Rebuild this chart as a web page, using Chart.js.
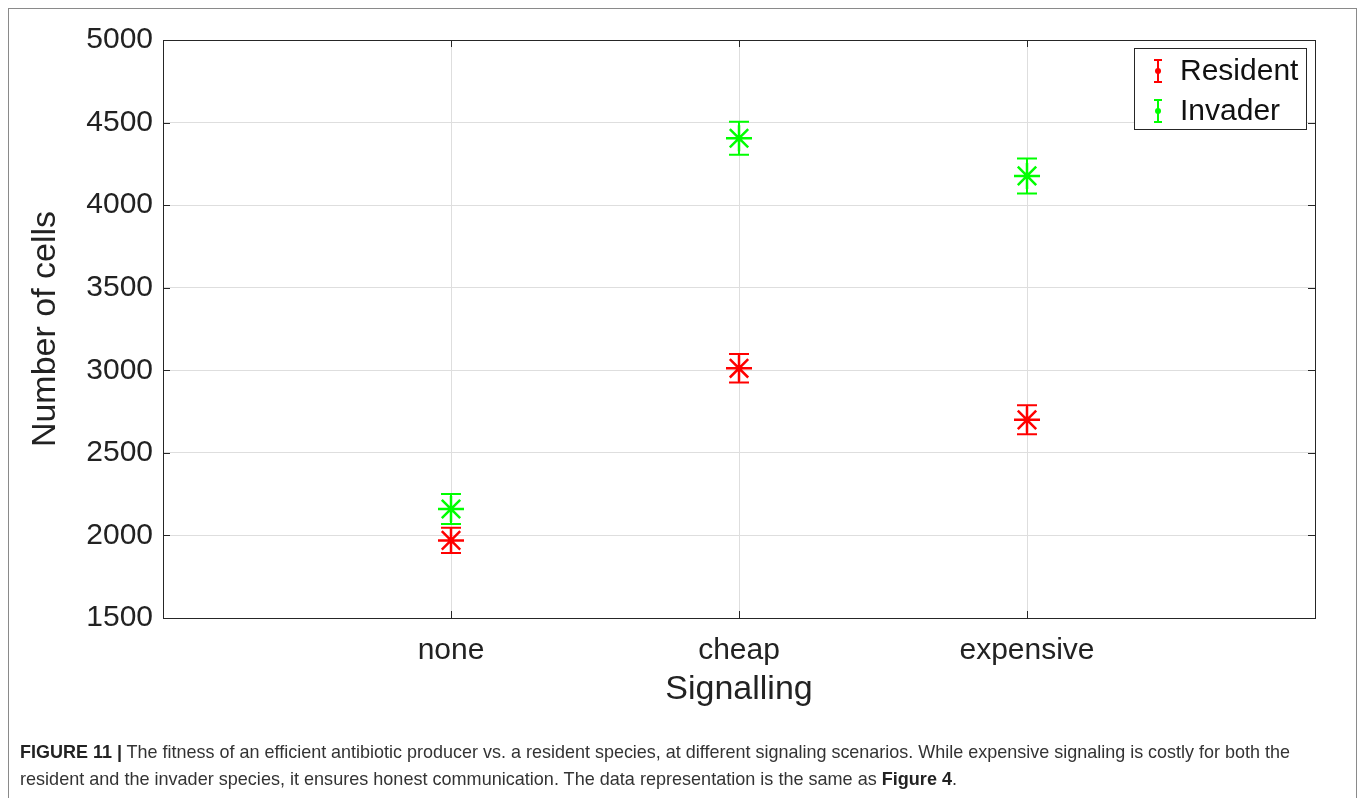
<!DOCTYPE html>
<html><head><meta charset="utf-8">
<script src="https://cdn.jsdelivr.net/npm/chart.js@4/dist/chart.umd.min.js"></script>
<style>
html,body{margin:0;padding:0;background:#fff;width:1363px;height:798px;overflow:hidden;}
#wrap{position:relative;width:1363px;height:798px;}
#frame{position:absolute;left:8px;top:8px;width:1349px;height:900px;border:1.5px solid #8a8a8a;box-sizing:border-box;}
#c{position:absolute;left:0;top:0;}
.cap{position:absolute;left:20px;font-family:"Liberation Sans Narrow","Liberation Sans",Arial,sans-serif;font-size:19px;line-height:19px;color:#333;white-space:nowrap;transform-origin:0 0;}
.cap b{color:#222;}
</style></head>
<body><div id="wrap">
<div id="frame"></div>
<canvas id="c" width="1363" height="798"></canvas>
<div class="cap" id="l1" style="top:742px"><b>FIGURE 11 |</b> The fitness of an efficient antibiotic producer vs. a resident species, at different signaling scenarios. While expensive signaling is costly for both the</div>
<div class="cap" id="l2" style="top:769px">resident and the invader species, it ensures honest communication. The data representation is the same as <b>Figure 4</b>.</div>
</div>
<script>
const categories = ['none', 'cheap', 'expensive'];
const residentMean = [1970, 3012, 2700];
const residentErr = [76, 86, 88];
const invaderMean = [2160, 4405, 4177];
const invaderErr = [91, 100, 106];
const yTicks = [1500, 2000, 2500, 3000, 3500, 4000, 4500, 5000];
const seriesNames = ['Resident', 'Invader'];
const seriesColors = ['#ff0000', '#00ff00'];

const FONT = '"Liberation Sans", Arial, sans-serif';
const TXT = '#222222';

function pts(means, errs) {
  return categories.map((c, i) => ({ x: i + 1, y: means[i], err: errs[i] }));
}

const errorBars = {
  id: 'errorBars',
  beforeDatasetsDraw(chart) {
    const ctx = chart.ctx, ys = chart.scales.y;
    chart.data.datasets.forEach((ds, di) => {
      const meta = chart.getDatasetMeta(di);
      ctx.save();
      ctx.strokeStyle = ds.borderColor;
      ctx.lineWidth = 2;
      meta.data.forEach((el, i) => {
        const d = ds.data[i];
        const yt = ys.getPixelForValue(d.y + d.err);
        const yb = ys.getPixelForValue(d.y - d.err);
        const x = el.x;
        ctx.beginPath();
        ctx.moveTo(x, yt); ctx.lineTo(x, yb);
        ctx.moveTo(x - 10, yt); ctx.lineTo(x + 10, yt);
        ctx.moveTo(x - 10, yb); ctx.lineTo(x + 10, yb);
        ctx.stroke();
      });
      ctx.restore();
    });
  }
};

const boxAndLegend = {
  id: 'boxAndLegend',
  afterDraw(chart) {
    const ctx = chart.ctx, a = chart.chartArea;
    ctx.save();
    ctx.strokeStyle = '#262626';
    ctx.lineWidth = 1;
    ctx.strokeRect(Math.round(a.left) + 0.5, Math.round(a.top) + 0.5, Math.round(a.right - a.left), Math.round(a.bottom - a.top));
    const tl = 7;
    ctx.beginPath();
    chart.scales.y.ticks.forEach(t => {
      const y = Math.round(chart.scales.y.getPixelForValue(t.value)) + 0.5;
      ctx.moveTo(a.left, y); ctx.lineTo(a.left + tl, y);
      ctx.moveTo(a.right, y); ctx.lineTo(a.right - tl, y);
    });
    chart.scales.x.ticks.forEach(t => {
      const x = Math.round(chart.scales.x.getPixelForValue(t.value)) + 0.5;
      ctx.moveTo(x, a.bottom); ctx.lineTo(x, a.bottom - tl);
      ctx.moveTo(x, a.top); ctx.lineTo(x, a.top + tl);
    });
    ctx.stroke();
    const lx = a.right - 181, ly = a.top + 8, lw = 172, lh = 81;
    ctx.fillStyle = '#fff';
    ctx.fillRect(lx, ly, lw, lh);
    ctx.strokeStyle = '#262626';
    ctx.strokeRect(lx + 0.5, ly + 0.5, lw, lh);
    chart.data.datasets.forEach((ds, i) => {
      const cy = ly + 23 + i * 40;
      const ix = lx + 24;
      ctx.strokeStyle = ds.borderColor;
      ctx.fillStyle = ds.borderColor;
      ctx.lineWidth = 2;
      ctx.beginPath();
      ctx.moveTo(ix, cy - 11); ctx.lineTo(ix, cy + 11);
      ctx.moveTo(ix - 4, cy - 11); ctx.lineTo(ix + 4, cy - 11);
      ctx.moveTo(ix - 4, cy + 11); ctx.lineTo(ix + 4, cy + 11);
      ctx.stroke();
      ctx.beginPath(); ctx.arc(ix, cy, 3, 0, Math.PI * 2); ctx.fill();
      ctx.fillStyle = '#111';
      ctx.font = '30px ' + FONT;
      ctx.textBaseline = 'middle';
      ctx.textAlign = 'left';
      ctx.fillText(ds.label, lx + 46, cy + 1);
    });
    ctx.restore();
  }
};

new Chart(document.getElementById('c'), {
  type: 'scatter',
  data: {
    datasets: [
      { label: seriesNames[0], data: pts(residentMean, residentErr), borderColor: seriesColors[0], backgroundColor: seriesColors[0], pointStyle: 'star', pointRadius: 13, pointBorderWidth: 2.5, pointHoverRadius: 13 },
      { label: seriesNames[1], data: pts(invaderMean, invaderErr), borderColor: seriesColors[1], backgroundColor: seriesColors[1], pointStyle: 'star', pointRadius: 13, pointBorderWidth: 2.5, pointHoverRadius: 13 }
    ]
  },
  options: {
    responsive: false,
    maintainAspectRatio: false,
    animation: false,
    devicePixelRatio: 1,
    layout: { padding: { top: 40, right: 48, bottom: 86, left: 0 } },
    plugins: { legend: { display: false }, tooltip: { enabled: false } },
    scales: {
      x: {
        type: 'linear', min: 0, max: 4,
        afterBuildTicks: s => { s.ticks = categories.map((c, i) => ({ value: i + 1 })); },
        afterFit: s => { s.height = 94; },
        grid: { color: '#dedede', drawTicks: false, lineWidth: 1 },
        border: { display: false },
        ticks: { padding: 15, color: TXT, font: { family: FONT, size: 30 }, callback: v => categories[v - 1] },
        title: { display: true, text: 'Signalling', color: TXT, font: { family: FONT, size: 34 }, padding: { top: 0, bottom: 2 } }
      },
      y: {
        min: 1500, max: 5000,
        afterBuildTicks: s => { s.ticks = yTicks.map(v => ({ value: v })); },
        afterFit: s => { s.width = 163; },
        grid: { color: '#dedede', drawTicks: false, lineWidth: 1 },
        border: { display: false },
        ticks: { padding: 10, color: TXT, font: { family: FONT, size: 30 }, callback: v => String(v) },
        title: { display: true, text: 'Number of cells', color: TXT, font: { family: FONT, size: 34 }, padding: { top: 25, bottom: 0 } }
      }
    }
  },
  plugins: [errorBars, boxAndLegend]
});

[['l1', 1270], ['l2', 937]].forEach(([id, w]) => {
  const el = document.getElementById(id);
  const cw = el.getBoundingClientRect().width;
  if (cw > 0) el.style.transform = 'scaleX(' + (w / cw) + ')';
});
</script>
</body></html>
